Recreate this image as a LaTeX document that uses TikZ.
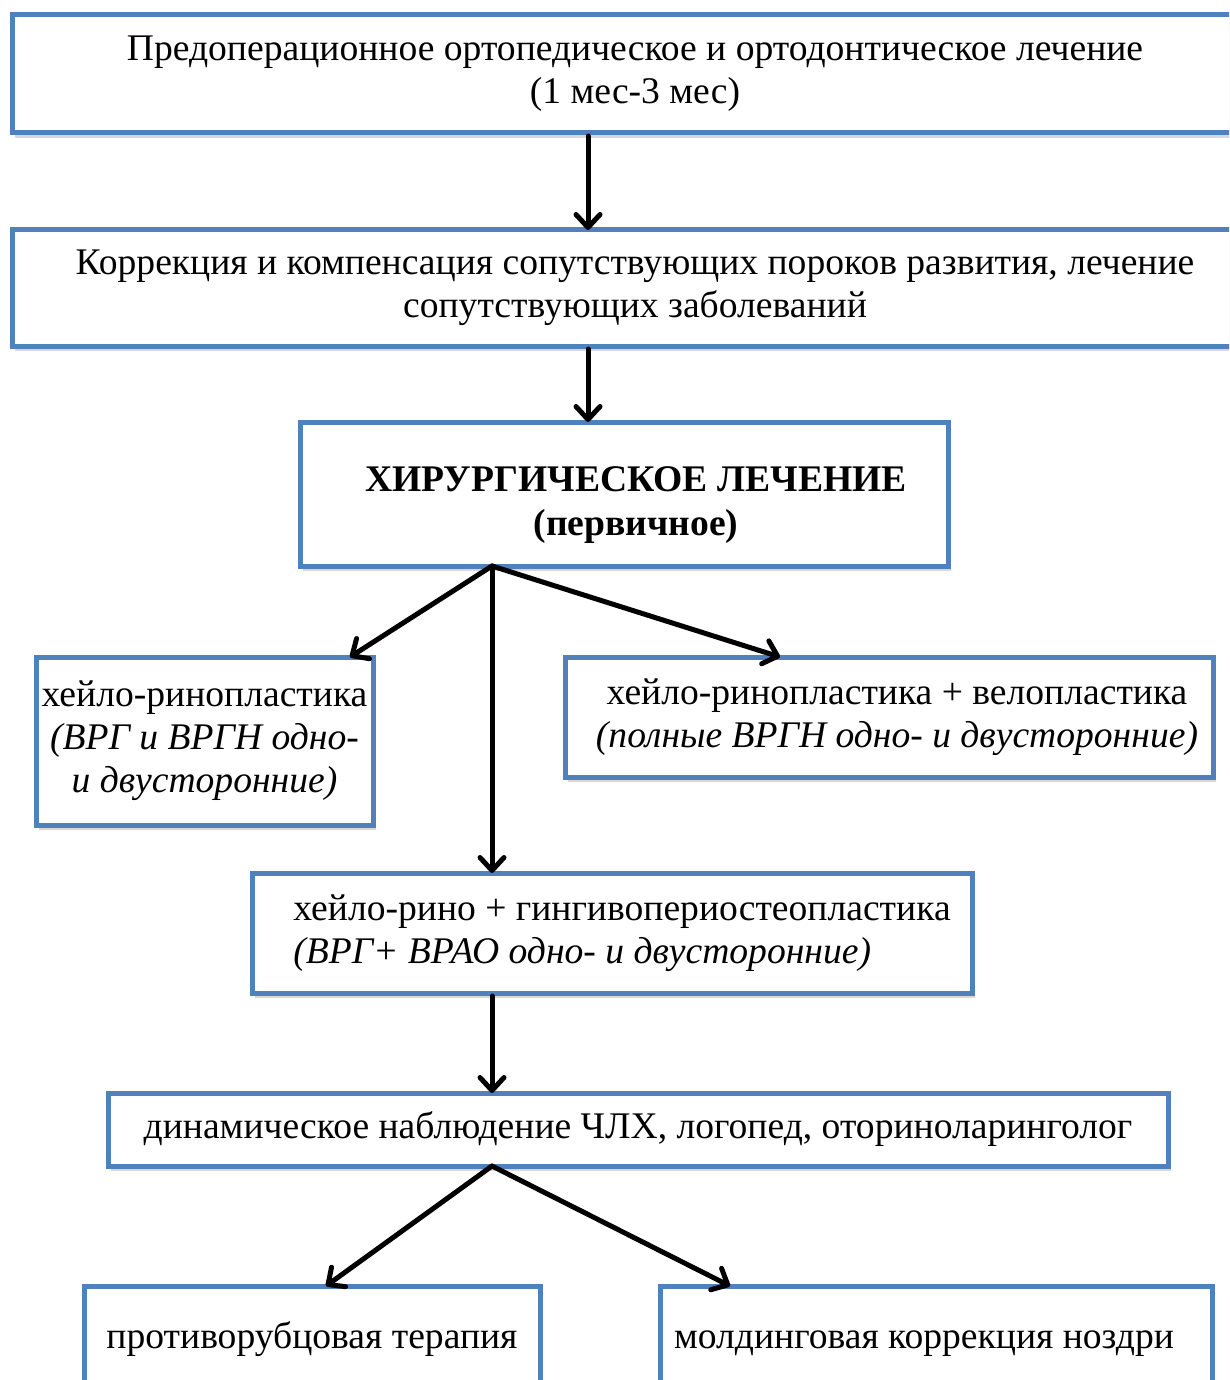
\documentclass[tikz,border=0pt]{standalone}
\usepackage{fontspec}
\setmainfont{Liberation Serif}
\usetikzlibrary{arrows.meta,shadows,calc}
\definecolor{boxblue}{RGB}{79,129,189}
\tikzset{
  box/.style={draw=boxblue, line width=5pt, fill=white, outer sep=0pt, inner sep=0pt,
    align=center, font=\fontsize{37.6}{43}\selectfont,
    drop shadow={shadow xshift=3pt, shadow yshift=-5pt, opacity=0.3}},
  arr/.style={-{Straight Barb[length=13pt,width=24pt,round]}, line width=5pt, line cap=round}
}
\begin{document}
\begin{tikzpicture}[x=1pt,y=-1pt]
\clip (0,0) rectangle (1229,1380);
\fill[white] (0,0) rectangle (1229,1380);
\node[box, minimum width=1246pt, minimum height=118pt] (b1) at (635,74)
  {Предоперационное ортопедическое и ортодонтическое лечение\\(1 мес-3 мес)};
\node[box, minimum width=1246pt, minimum height=116pt] (b2) at (635,288)
  {Коррекция и компенсация сопутствующих пороков развития, лечение\\сопутствующих заболеваний};
\node[box, minimum width=648pt, minimum height=144pt,
  label={[yshift=-11pt, align=center, font=\fontsize{37.6}{44}\selectfont\bfseries]center:\hspace*{24pt}ХИРУРГИЧЕСКОЕ ЛЕЧЕНИЕ\\\hspace*{24pt}(первичное)}] (b3) at (624,494) {};
\node[box, minimum width=337pt, minimum height=168pt] (b4) at (204.5,741)
  {хейло-ринопластика\\\textit{(ВРГ и ВРГН одно-}\\\textit{и двусторонние)}};
\node[box, minimum width=648pt, minimum height=120pt] (b5) at (889,717)
  {\hspace*{16pt}хейло-ринопластика + велопластика\\\hspace*{16pt}\textit{(полные ВРГН одно- и двусторонние)}};
\node[box, minimum width=720pt, minimum height=120pt, align=left] (b6) at (612,933)
  {\hspace*{20pt}хейло-рино + гингивопериостеопластика\\\hspace*{20pt}\textit{(ВРГ+ ВРАО одно- и двусторонние)}};
\node[box, minimum width=1060pt, minimum height=73pt] (b7) at (638,1129.5)
  {\strut динамическое наблюдение ЧЛХ, логопед, оториноларинголог};
\node[box, minimum width=456pt, minimum height=108pt] (b8) at (312,1340)
  {\strut противорубцовая терапия};
\node[box, minimum width=552pt, minimum height=108pt] (b9) at (936,1340)
  {\strut молдинговая коррекция ноздри\hspace*{24pt}};
\draw[arr] ([xshift=576pt,yshift=-3pt]b1.south west) -- ([xshift=576pt]b2.north west);
\draw[arr] ([xshift=576pt,yshift=-3pt]b2.south west) -- ([xshift=288pt]b3.north west);
\coordinate (s3) at ([xshift=192pt]b3.south west);
\draw[arr] (s3) -- ([xshift=314pt]b4.north west);
\draw[arr] (s3) -- ([xshift=240pt]b6.north west);
\draw[arr] (s3) -- ([xshift=215pt]b5.north west);
\draw[arr] ([xshift=240pt,yshift=-3pt]b6.south west) -- ([xshift=384pt]b7.north west);
\coordinate (s7) at ([xshift=384pt]b7.south west);
\draw[arr] (s7) -- ([xshift=242pt]b8.north west);
\draw[arr] (s7) -- ([xshift=70pt]b9.north west);
\end{tikzpicture}
\end{document}
